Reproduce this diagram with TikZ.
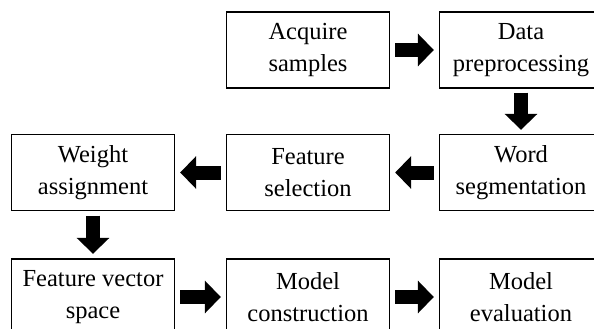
\documentclass[tikz,border=0pt]{standalone}
\usepackage{fontspec}
\setmainfont{Liberation Serif}
\usetikzlibrary{arrows.meta,calc}
\begin{document}
\begin{tikzpicture}[x=1pt,y=-1pt,
  box/.style={draw, line width=1.4pt, minimum width=163pt, minimum height=76pt,
    inner sep=0pt, align=center, font=\fontsize{24.5}{32}\selectfont},
  barrow/.style={line width=14pt, -{Triangle[width=32pt,length=16pt]},
    shorten <=#1, shorten >=#1},
  barrow/.default=5pt]
\useasboundingbox (0,0) rectangle (594,329);
\clip (0,0) rectangle (594,329);
\node[box] (acq)  at (308,50)    {Acquire\\samples};
\node[box] (data) at (521,50)    {Data\\preprocessing};
\node[box] (word) at (521,172.5) {Word\\segmentation};
\node[box] (fsel) at (308,172.5) {Feature\\selection};
\node[box] (wa)   at (93,172.5)  {Weight\\assignment};
\node[box] (fvs)  at (93,297)    {Feature vector\\space};
\node[box] (mc)   at (308,297)   {Model\\construction};
\node[box] (me)   at (521,297)   {Model\\evaluation};
\draw[barrow] (acq.east) -- (data.west);
\draw[barrow=4pt] (data.south) -- (word.north);
\draw[barrow] (word.west) -- (fsel.east);
\draw[barrow] (fsel.west) -- (wa.east);
\draw[barrow=4.5pt] (wa.south) -- (fvs.north);
\draw[barrow] (fvs.east) -- (mc.west);
\draw[barrow] (mc.east) -- (me.west);
\end{tikzpicture}
\end{document}
